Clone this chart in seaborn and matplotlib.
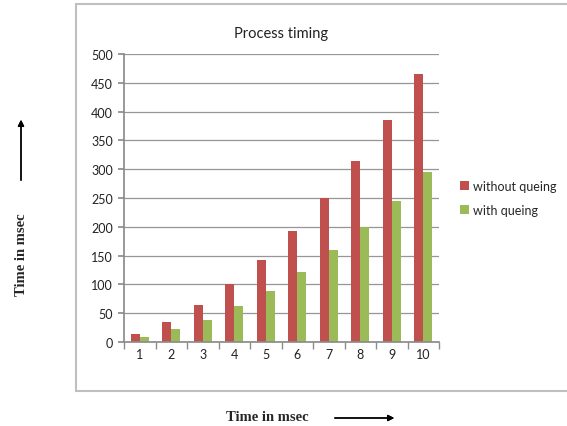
import numpy as np
import pandas as pd
import seaborn as sns
import matplotlib.pyplot as plt
from matplotlib.lines import Line2D
from matplotlib.ticker import FixedLocator

# values
steps = ["1", "2", "3", "4", "5", "6", "7", "8", "9", "10"]
without_queing = [14, 34, 64, 100, 142, 192, 250, 314, 386, 466]
with_queing = [9, 22, 39, 62, 89, 122, 159, 200, 245, 295]

df = pd.DataFrame({
    "step": steps * 2,
    "time": without_queing + with_queing,
    "series": ["without queing"] * len(steps) + ["with queing"] * len(steps),
})

sns.set_theme(style="white")
plt.rcParams['font.family'] = ['Lato', 'DejaVu Sans']

fig = plt.figure(figsize=(5.67, 4.27), dpi=100)
ax = fig.add_axes([124 / 567, 84 / 427, 315 / 567, 288 / 427])

sns.barplot(data=df, x="step", y="time", hue="series",
            palette=["#C0504D", "#9BBB59"], width=0.58, gap=0,
            saturation=1, linewidth=0, ax=ax, legend=True)

ax.set_ylim(0, 500)
ax.set_xlim(-0.5, len(steps) - 0.5)
ax.set_yticks(np.arange(0, 501, 50))
ax.yaxis.grid(True, color="#969696", linewidth=0.9)
ax.set_axisbelow(True)
for s in ["top", "right"]:
    ax.spines[s].set_visible(False)
ax.spines["left"].set_color("#8c8c8c")
ax.spines["bottom"].set_color("#8c8c8c")
ax.tick_params(axis="both", labelsize=9, colors="#222222", length=0, pad=4)
ax.tick_params(axis="y", which="major", length=4, color="#8c8c8c", left=True)
ax.xaxis.set_minor_locator(FixedLocator(np.arange(-0.5, len(steps), 1)))
ax.tick_params(axis="x", which="minor", length=5, color="#8c8c8c", bottom=True)
ax.set_xlabel("")
ax.set_ylabel("")

ax.set_title("Process timing", fontsize=10.5, color="#222222", pad=12)

leg = ax.legend(loc="center left", bbox_to_anchor=(1.03, 0.5), frameon=False,
                fontsize=9, handlelength=0.75, handleheight=0.75,
                handletextpad=0.35, labelspacing=1.0)

# chart area border
grey = "#bfbfbf"
fig.add_artist(Line2D([76 / 567, 76 / 567], [1 - 392 / 427, 1 - 5 / 427], color=grey, lw=1.5))
fig.add_artist(Line2D([76 / 567, 1], [1 - 5 / 427, 1 - 5 / 427], color=grey, lw=1.5))
fig.add_artist(Line2D([76 / 567, 1], [1 - 392 / 427, 1 - 392 / 427], color=grey, lw=1.5))

# axis titles with arrows
serif = ['Liberation Serif', 'DejaVu Serif']
fig.text(22 / 567, 1 - 255 / 427, "Time in msec", rotation=90, family=serif,
         fontweight="bold", fontsize=10.5, ha="center", va="center")
fig.text(267 / 567, 1 - 418 / 427, "Time in msec", family=serif,
         fontweight="bold", fontsize=10.5, ha="center", va="center")
fig.add_artist(plt.annotate("", xy=(21 / 567, 1 - 118 / 427), xytext=(21 / 567, 1 - 184 / 427),
                            xycoords="figure fraction",
                            arrowprops=dict(arrowstyle="-|>", color="black", lw=1,
                                            mutation_scale=9)))
fig.add_artist(plt.annotate("", xy=(397 / 567, 1 - 419 / 427), xytext=(332 / 567, 1 - 419 / 427),
                            xycoords="figure fraction",
                            arrowprops=dict(arrowstyle="-|>", color="black", lw=1,
                                            mutation_scale=9)))

plt.savefig("out.png", dpi=100)
plt.close()
